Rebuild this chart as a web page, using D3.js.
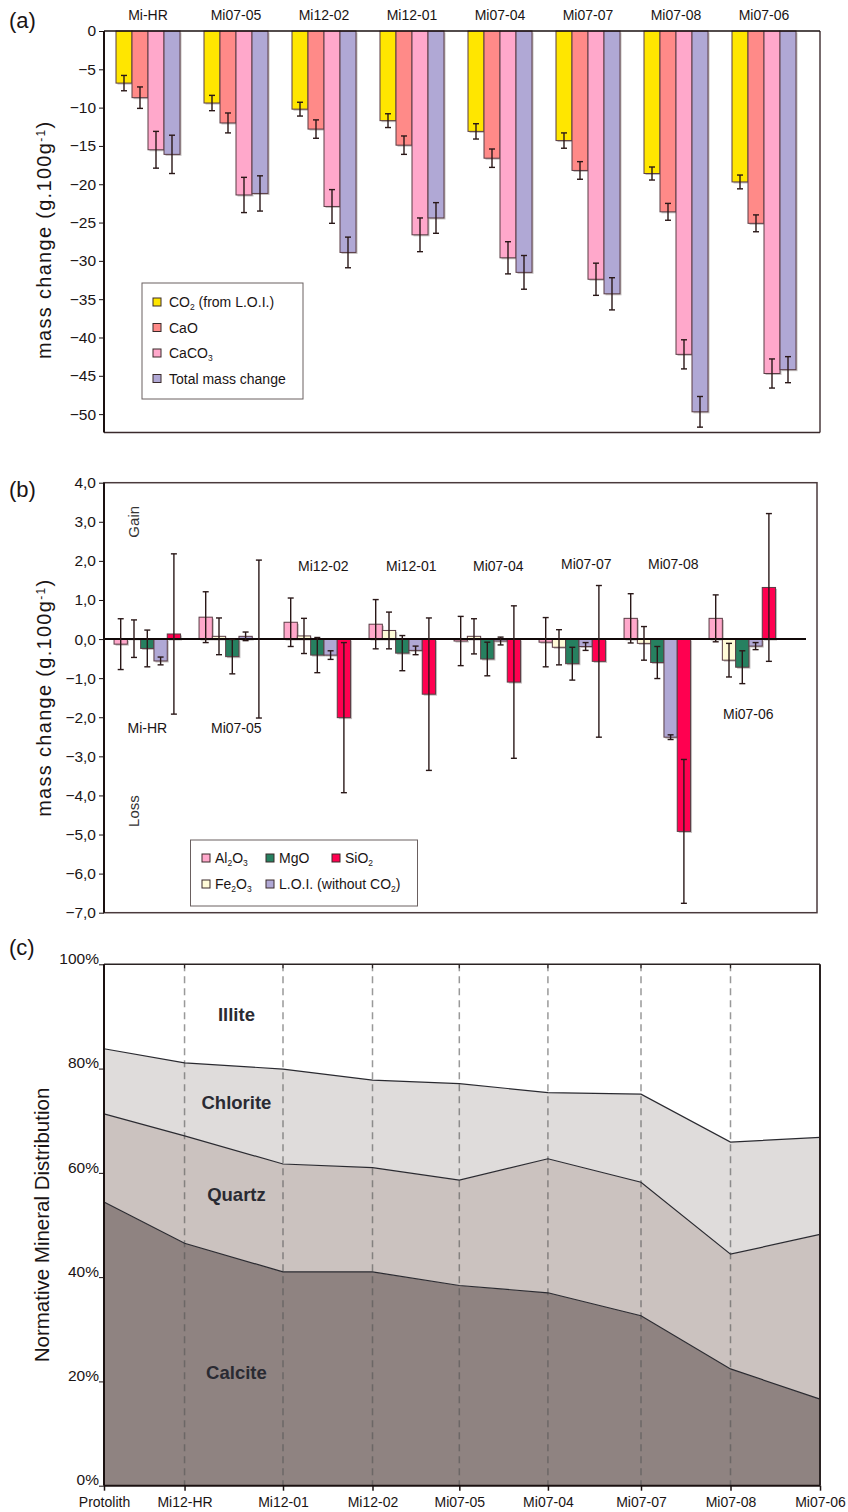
<!DOCTYPE html>
<html>
<head>
<meta charset="utf-8">
<script src="https://cdn.jsdelivr.net/npm/d3@7"></script>
<style>
  body { margin: 0; background: #fff; }
  text { font-family: "Liberation Sans", Arial, sans-serif; fill: #1a1414; }
</style>
</head>
<body>
<div id="chart"></div>
<script>
// ---------- panel (a): mass change of carbonate components
const samplesA = ["Mi-HR", "Mi07-05", "Mi12-02", "Mi12-01", "Mi07-04", "Mi07-07", "Mi07-08", "Mi07-06"];
const co2      = [-6.8, -9.4, -10.2, -11.7, -13.1, -14.3, -18.6, -19.7];
const co2Err   = [1.0, 1.0, 0.9, 0.9, 1.0, 1.0, 0.85, 0.9];
const cao      = [-8.7, -12.0, -12.8, -14.9, -16.6, -18.2, -23.6, -25.1];
const caoErr   = [1.4, 1.3, 1.2, 1.2, 1.2, 1.15, 1.1, 1.1];
const caco3    = [-15.5, -21.4, -22.9, -26.6, -29.6, -32.4, -42.2, -44.7];
const caco3Err = [2.4, 2.3, 2.2, 2.2, 2.1, 2.1, 1.9, 1.9];
const total    = [-16.1, -21.2, -28.9, -24.4, -31.5, -34.3, -49.7, -44.2];
const totalErr = [2.5, 2.3, 2.0, 2.0, 2.2, 2.1, 2.0, 1.7];

// ---------- panel (b): mass change of other oxides
const samplesB = ["Mi-HR", "Mi07-05", "Mi12-02", "Mi12-01", "Mi07-04", "Mi07-07", "Mi07-08", "Mi07-06"];
const al2o3    = [-0.13, 0.56, 0.43, 0.38, -0.05, -0.08, 0.53, 0.53];
const al2o3Err = [0.65, 0.65, 0.62, 0.63, 0.63, 0.63, 0.63, 0.6];
const fe2o3    = [0.01, 0.07, 0.08, 0.22, 0.07, -0.21, -0.11, -0.54];
const fe2o3Err = [0.48, 0.47, 0.45, 0.47, 0.45, 0.45, 0.43, 0.43];
const mgo      = [-0.24, -0.45, -0.41, -0.36, -0.51, -0.63, -0.6, -0.72];
const mgoErr   = [0.47, 0.44, 0.45, 0.45, 0.43, 0.42, 0.41, 0.42];
const loi      = [-0.56, 0.07, -0.41, -0.29, -0.05, -0.19, -2.51, -0.18];
const loiErr   = [0.1, 0.11, 0.11, 0.11, 0.1, 0.1, 0.06, 0.09];
const sio2     = [0.13, 0.0, -2.01, -1.41, -1.1, -0.57, -4.92, 1.32];
const sio2Err  = [2.05, 2.02, 1.92, 1.95, 1.95, 1.94, 1.84, 1.89];
// where each sample name sits in panel (b): height in axis units, nudge in px
const labelB   = [-2.4, -2.4, 1.75, 1.75, 1.75, 1.8, 1.8, -2.05];
const labelBdx = [0, 4, 6, 9, 11, 14, 16, 6];

// ---------- panel (c): normative mineral distribution (%)
const samplesC = ["Protolith", "Mi12-HR", "Mi12-01", "Mi12-02", "Mi07-05", "Mi07-04", "Mi07-07", "Mi07-08", "Mi07-06"];
const samplePos = [0, 0.9, 2, 3, 3.97, 4.96, 6, 7, 8];
const calcite  = [54.4, 46.5, 41.0, 41.0, 38.4, 37.0, 32.6, 22.4, 16.6];
const quartz   = [16.9, 20.6, 20.7, 20.0, 20.2, 25.7, 25.6, 22.0, 31.6];
const chlorite = [12.5, 14.0, 18.2, 16.8, 18.5, 12.7, 16.9, 21.5, 18.6];
const illite   = [16.2, 18.9, 20.1, 22.2, 22.9, 24.6, 24.9, 34.1, 33.2];

const svg = d3.select("#chart").append("svg")
    .attr("width", 848).attr("height", 1512);

// writes text with sub/superscript parts: [["CO"], ["2","sub"], [" (from L.O.I.)","back"]]
function richText(sel, parts, subSize) {
    parts.forEach(p => {
        const t = sel.append("tspan").text(p[0]);
        if (p[1] === "sub") {
            t.attr("font-size", subSize).attr("dy", 3);
        } else if (p[1] === "sup") {
            t.attr("font-size", subSize).attr("dy", -6);
        } else if (p[1] === "back") {
            t.attr("dy", -3);
        } else if (p[1] === "down") {
            t.attr("dy", 6);
        }
    });
}

// grouped bars with a soft shadow
function groupedBars(g, groups, series, x0, x1, y) {
    const rows = series.map(s => groups.map((grp, i) => ({
        grp: grp, key: s.key, v: s.values[i], e: s.err[i], color: s.color
    }))).flat();

    g.selectAll(".shadow").data(rows).join("rect")
        .attr("class", "shadow")
        .attr("x", d => x0(d.grp) + x1(d.key) + 1.5)
        .attr("y", d => Math.min(y(0), y(d.v)) + 1.5)
        .attr("width", x1.bandwidth())
        .attr("height", d => Math.abs(y(d.v) - y(0)))
        .attr("fill", "#c4c0c0");

    g.selectAll(".bar").data(rows).join("rect")
        .attr("class", "bar")
        .attr("x", d => x0(d.grp) + x1(d.key))
        .attr("y", d => Math.min(y(0), y(d.v)))
        .attr("width", x1.bandwidth())
        .attr("height", d => Math.abs(y(d.v) - y(0)))
        .attr("fill", d => d.color)
        .attr("stroke", "#5a3c44")
        .attr("stroke-width", 1);

    return rows;
}

function errorBars(g, rows, x0, x1, y) {
    const cx = d => x0(d.grp) + x1(d.key) + x1.bandwidth() / 2;
    const eg = g.selectAll(".err").data(rows).join("g").attr("class", "err")
        .attr("stroke", "#2a1818").attr("stroke-width", 1.4);
    eg.append("line")
        .attr("x1", cx).attr("x2", cx)
        .attr("y1", d => y(d.v + d.e)).attr("y2", d => y(d.v - d.e));
    eg.append("line")
        .attr("x1", d => cx(d) - 3).attr("x2", d => cx(d) + 3)
        .attr("y1", d => y(d.v + d.e)).attr("y2", d => y(d.v + d.e));
    eg.append("line")
        .attr("x1", d => cx(d) - 3).attr("x2", d => cx(d) + 3)
        .attr("y1", d => y(d.v - d.e)).attr("y2", d => y(d.v - d.e));
}

function legendBox(g, x, y, w, h) {
    g.append("rect").attr("x", x).attr("y", y).attr("width", w).attr("height", h)
        .attr("fill", "#fff").attr("stroke", "#6a6060").attr("stroke-width", 1);
}

function swatch(g, x, y, color) {
    g.append("rect").attr("x", x).attr("y", y - 9).attr("width", 8).attr("height", 8)
        .attr("fill", color).attr("stroke", "#3a2a2a").attr("stroke-width", 1);
}

function styleTicks(axisG, size) {
    axisG.selectAll(".tick line").attr("stroke", "#1a1010");
    axisG.selectAll(".tick text").attr("font-size", size)
        .attr("font-family", "Liberation Sans, Arial, sans-serif").attr("fill", "#1a1414");
}

// =================== panel (a)
{
    const left = 104, right = 820, top = 31, bottom = 432.5;
    const g = svg.append("g");

    const x0 = d3.scaleBand().domain(samplesA).range([104, 808]);
    const keys = ["co2", "cao", "caco3", "total"];
    const x1 = d3.scaleBand().domain(keys).range([12, 76]);
    const y = d3.scaleLinear().domain([-52.4, 0]).range([bottom, top]);

    const series = [
        {key: "co2", values: co2, err: co2Err, color: "#ffe600"},
        {key: "cao", values: cao, err: caoErr, color: "#ff8a88"},
        {key: "caco3", values: caco3, err: caco3Err, color: "#ffa8cb"},
        {key: "total", values: total, err: totalErr, color: "#b0a8d5"}
    ];

    const rows = groupedBars(g.append("g"), samplesA, series, x0, x1, y);
    errorBars(g.append("g"), rows, x0, x1, y);

    // frame
    g.append("line").attr("x1", right).attr("x2", right).attr("y1", top).attr("y2", bottom)
        .attr("stroke", "#4a3a3c").attr("stroke-width", 1.5);
    g.append("line").attr("x1", left).attr("x2", right).attr("y1", bottom).attr("y2", bottom)
        .attr("stroke", "#3a2a2c").attr("stroke-width", 1.5);
    g.append("line").attr("x1", left).attr("x2", right).attr("y1", y(0)).attr("y2", y(0))
        .attr("stroke", "#1a1010").attr("stroke-width", 1.5);

    const yAxis = g.append("g").attr("transform", `translate(${left},0)`)
        .call(d3.axisLeft(y).tickValues(d3.range(0, -51, -5)).tickSize(5).tickFormat(d3.format("d")));
    yAxis.select(".domain").attr("stroke", "#1a1010").attr("stroke-width", 2)
        .attr("d", `M0,${top}V${bottom}`);
    styleTicks(yAxis, 15.5);
    yAxis.selectAll(".tick text").attr("x", -8);

    // sample names above
    g.selectAll(".grp").data(samplesA).join("text")
        .attr("x", d => x0(d) + x0.bandwidth() / 2)
        .attr("y", 20)
        .attr("text-anchor", "middle")
        .attr("font-size", 14)
        .text(d => d);

    const yl = g.append("text")
        .attr("transform", `translate(51,${(top + bottom) / 2 + 8}) rotate(-90)`)
        .attr("text-anchor", "middle").attr("font-size", 20).attr("letter-spacing", 1.3);
    richText(yl, [["mass change (g.100g"], ["-1", "sup"], [")", "down"]], 12);

    svg.append("text").attr("x", 9).attr("y", 28).attr("font-size", 22).text("(a)");

    // legend
    const lg = g.append("g");
    legendBox(lg, 142, 283, 161, 116);
    const entriesA = [
        {color: "#ffe600", parts: [["CO"], ["2", "sub"], [" (from L.O.I.)", "back"]]},
        {color: "#ff8a88", parts: [["CaO"]]},
        {color: "#ffa8cb", parts: [["CaCO"], ["3", "sub"]]},
        {color: "#b0a8d5", parts: [["Total mass change"]]}
    ];
    entriesA.forEach((e, i) => {
        const yy = 307 + i * 25.5;
        swatch(lg, 153, yy, e.color);
        const t = lg.append("text").attr("x", 169).attr("y", yy).attr("font-size", 14);
        richText(t, e.parts, 8.5);
    });
}

// =================== panel (b)
{
    const left = 104, right = 817, top = 482.7, bottom = 912.7;
    const g = svg.append("g");

    const x0 = d3.scaleBand().domain(samplesB).range([104.8, 784.8]);
    const keys = ["al2o3", "fe2o3", "mgo", "loi", "sio2"];
    const x1 = d3.scaleBand().domain(keys).range([9.25, 75.75]);
    const y = d3.scaleLinear().domain([-7, 4]).range([bottom, top]);

    const series = [
        {key: "al2o3", values: al2o3, err: al2o3Err, color: "#ffa8cb"},
        {key: "fe2o3", values: fe2o3, err: fe2o3Err, color: "#fffbd8"},
        {key: "mgo", values: mgo, err: mgoErr, color: "#268060"},
        {key: "loi", values: loi, err: loiErr, color: "#b0a8d5"},
        {key: "sio2", values: sio2, err: sio2Err, color: "#ff0050"}
    ];

    // frame
    g.append("rect").attr("x", left).attr("y", top).attr("width", right - left).attr("height", bottom - top)
        .attr("fill", "none").attr("stroke", "#4a3a3c").attr("stroke-width", 1.5);

    const rows = groupedBars(g.append("g"), samplesB, series, x0, x1, y);

    g.append("line").attr("x1", left).attr("x2", 806).attr("y1", y(0)).attr("y2", y(0))
        .attr("stroke", "#100808").attr("stroke-width", 2);

    errorBars(g.append("g"), rows, x0, x1, y);

    const yAxis = g.append("g").attr("transform", `translate(${left},0)`)
        .call(d3.axisLeft(y).tickValues(d3.range(4, -7.5, -1)).tickSize(5)
            .tickFormat(d => d3.format(".1f")(d).replace(".", ",")));
    yAxis.select(".domain").attr("stroke", "#1a1010").attr("stroke-width", 2)
        .attr("d", `M0,${top}V${bottom}`);
    styleTicks(yAxis, 15.5);
    yAxis.selectAll(".tick text").attr("x", -8);

    // sample names inside the plot
    g.selectAll(".grp").data(samplesB).join("text")
        .attr("x", (d, i) => x0(d) + x0.bandwidth() / 2 + labelBdx[i])
        .attr("y", (d, i) => y(labelB[i]))
        .attr("text-anchor", "middle")
        .attr("font-size", 14)
        .text(d => d);

    g.append("text").attr("transform", `translate(139,${y(3.0)}) rotate(-90)`)
        .attr("text-anchor", "middle").attr("font-size", 15).style("fill", "#333").text("Gain");
    g.append("text").attr("transform", `translate(139,${y(-4.4)}) rotate(-90)`)
        .attr("text-anchor", "middle").attr("font-size", 15).style("fill", "#333").text("Loss");

    const yl = g.append("text")
        .attr("transform", `translate(51,${(top + bottom) / 2}) rotate(-90)`)
        .attr("text-anchor", "middle").attr("font-size", 20).attr("letter-spacing", 1.3);
    richText(yl, [["mass change (g.100g"], ["-1", "sup"], [")", "down"]], 12);

    svg.append("text").attr("x", 9).attr("y", 497).attr("font-size", 22).text("(b)");

    // legend
    const lg = g.append("g");
    legendBox(lg, 190.5, 840, 227, 66);
    const entriesB = [
        {x: 202, y: 863, color: "#ffa8cb", parts: [["Al"], ["2", "sub"], ["O", "back"], ["3", "sub"]]},
        {x: 266, y: 863, color: "#268060", parts: [["MgO"]]},
        {x: 332, y: 863, color: "#ff0050", parts: [["SiO"], ["2", "sub"]]},
        {x: 202, y: 889, color: "#fffbd8", parts: [["Fe"], ["2", "sub"], ["O", "back"], ["3", "sub"]]},
        {x: 266, y: 889, color: "#b0a8d5", parts: [["L.O.I. (without CO"], ["2", "sub"], [")", "back"]]}
    ];
    entriesB.forEach(e => {
        swatch(lg, e.x, e.y, e.color);
        const t = lg.append("text").attr("x", e.x + 13).attr("y", e.y).attr("font-size", 14);
        richText(t, e.parts, 8.5);
    });
}

// =================== panel (c)
{
    const left = 104, right = 820, top = 964.3, bottom = 1485.7;
    const g = svg.append("g");

    const x = d3.scaleLinear().domain([0, 8]).range([left, right]);
    const y = d3.scaleLinear().domain([0, 100]).range([bottom, top]);

    const table = samplesC.map((s, i) => ({
        sample: s, pos: samplePos[i],
        calcite: calcite[i], quartz: quartz[i], chlorite: chlorite[i], illite: illite[i]
    }));
    const keys = ["calcite", "quartz", "chlorite", "illite"];
    const colors = {calcite: "#8f8381", quartz: "#cbc2bf", chlorite: "#dfdcdb", illite: "#ffffff"};
    const stacked = d3.stack().keys(keys)(table);

    const area = d3.area()
        .x(d => x(d.data.pos))
        .y0(d => y(d[0]))
        .y1(d => y(d[1]));
    g.selectAll(".layer").data(stacked).join("path")
        .attr("d", area)
        .attr("fill", d => colors[d.key]);

    // dashed sample lines
    g.selectAll(".vline").data(samplePos.slice(1, -1)).join("line")
        .attr("x1", d => x(d)).attr("x2", d => x(d))
        .attr("y1", top).attr("y2", bottom)
        .attr("stroke", "#555").attr("stroke-opacity", 0.6)
        .attr("stroke-width", 1.5).attr("stroke-dasharray", "7,5");

    // boundary lines between minerals
    const line = d3.line().x(d => x(d.data.pos)).y(d => y(d[1]));
    g.selectAll(".bound").data(stacked.slice(0, 3)).join("path")
        .attr("d", line)
        .attr("fill", "none").attr("stroke", "#2a2a30").attr("stroke-width", 1.2);

    // frame
    g.append("line").attr("x1", left).attr("x2", right).attr("y1", top).attr("y2", top)
        .attr("stroke", "#2a2222").attr("stroke-width", 1.5);
    g.append("line").attr("x1", right).attr("x2", right).attr("y1", top).attr("y2", bottom)
        .attr("stroke", "#2a2222").attr("stroke-width", 2);
    g.selectAll(".ttick").data(samplePos.slice(1, -1)).join("line")
        .attr("x1", d => x(d)).attr("x2", d => x(d))
        .attr("y1", top).attr("y2", top + 4)
        .attr("stroke", "#2a2222").attr("stroke-width", 1.2);

    const yAxis = g.append("g").attr("transform", `translate(${left},0)`)
        .call(d3.axisLeft(y).tickValues([0, 20, 40, 60, 80, 100]).tickSize(5).tickFormat(d => d + "%"));
    yAxis.select(".domain").attr("stroke", "#1a1010").attr("stroke-width", 2)
        .attr("d", `M0,${top}V${bottom}`);
    styleTicks(yAxis, 15.5);
    yAxis.selectAll(".tick text").attr("x", -5).attr("dy", "-0.05em");

    const xAxis = g.append("g").attr("transform", `translate(0,${bottom})`)
        .call(d3.axisBottom(x).tickValues(samplePos).tickSize(5)
            .tickFormat((d, i) => samplesC[i]));
    xAxis.select(".domain").attr("stroke", "#1a1010").attr("stroke-width", 2)
        .attr("d", `M${left},0H${right}`);
    styleTicks(xAxis, 14);
    xAxis.selectAll(".tick line").attr("stroke-width", 1.5);
    xAxis.selectAll(".tick text").attr("y", 11);

    // mineral names
    const names = [
        {text: "Illite", v: 90.1},
        {text: "Chlorite", v: 73.2},
        {text: "Quartz", v: 55.6},
        {text: "Calcite", v: 21.4}
    ];
    g.selectAll(".mname").data(names).join("text")
        .attr("x", x(1.48)).attr("y", d => y(d.v))
        .attr("text-anchor", "middle").attr("dominant-baseline", "middle")
        .attr("font-family", "Open Sans, Lato, sans-serif")
        .attr("font-weight", "bold").attr("font-size", 18.5)
        .style("fill", "#2a2a32")
        .text(d => d.text);

    g.append("text")
        .attr("transform", `translate(49,${(top + bottom) / 2}) rotate(-90)`)
        .attr("text-anchor", "middle").attr("font-size", 20.5)
        .text("Normative Mineral Distribution");

    svg.append("text").attr("x", 9).attr("y", 955).attr("font-size", 22).text("(c)");
}
</script>
</body>
</html>
